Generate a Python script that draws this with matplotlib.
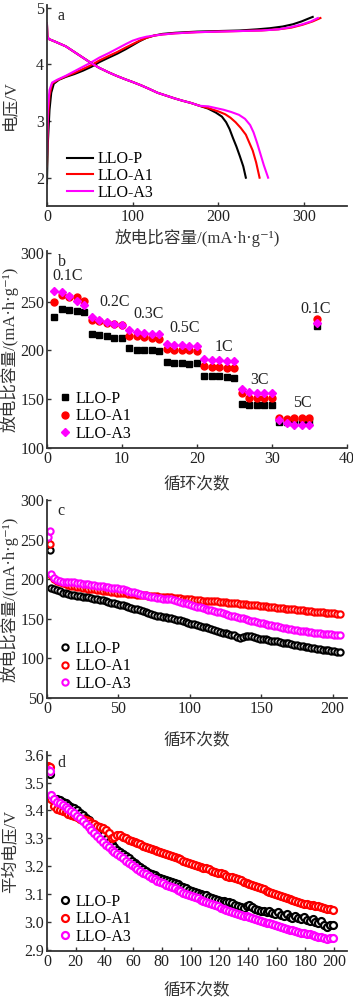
import matplotlib
matplotlib.use("Agg")
import matplotlib.pyplot as plt
import numpy as np

plt.rcParams['font.family'] = ['Liberation Serif', 'Noto Sans CJK SC', 'DejaVu Serif']
plt.rcParams['axes.unicode_minus'] = False

names = ['LLO-P', 'LLO-A1', 'LLO-A3']
colors = ['#000000', '#ff0000', '#ff00ff']

# (a) charge / discharge curves: capacity (mAh/g), voltage (V)
chg_cap_p = [0, 1, 3, 5, 8, 14, 22, 32, 42, 52, 61, 72, 82, 92, 100, 108, 116, 125, 135, 150, 175, 200, 225, 245, 260, 275, 287, 297, 305, 310]
chg_v_p = [1.9, 2.6, 3.2, 3.5, 3.66, 3.73, 3.78, 3.83, 3.89, 3.96, 4.04, 4.12, 4.19, 4.27, 4.34, 4.41, 4.47, 4.51, 4.54, 4.56, 4.58, 4.59, 4.60, 4.62, 4.64, 4.67, 4.71, 4.76, 4.81, 4.84]
chg_cap_a1 = [0, 1, 3, 6, 12, 22, 32, 42, 52, 61, 72, 82, 92, 100, 108, 116, 125, 135, 150, 175, 200, 225, 250, 270, 285, 298, 310, 319]
chg_v_a1 = [2.2, 3.0, 3.45, 3.66, 3.72, 3.79, 3.85, 3.92, 3.99, 4.07, 4.15, 4.22, 4.30, 4.36, 4.42, 4.47, 4.51, 4.53, 4.55, 4.57, 4.58, 4.59, 4.60, 4.62, 4.65, 4.70, 4.76, 4.82]
chg_cap_a3 = [0, 1, 3, 6, 12, 22, 32, 42, 52, 61, 72, 82, 92, 100, 108, 116, 125, 135, 150, 175, 200, 225, 250, 270, 285, 298, 308, 316]
chg_v_a3 = [2.4, 3.2, 3.55, 3.68, 3.73, 3.80, 3.88, 3.96, 4.04, 4.12, 4.20, 4.28, 4.36, 4.42, 4.46, 4.49, 4.51, 4.53, 4.55, 4.57, 4.58, 4.59, 4.60, 4.62, 4.66, 4.71, 4.76, 4.82]

dis_cap_common = [0, 0.5, 2, 10, 22, 32, 42, 52, 61, 72, 81, 91, 100, 110, 119, 129, 139, 149, 158, 168, 178]
dis_v_common = [4.72, 4.5, 4.45, 4.40, 4.32, 4.22, 4.12, 4.02, 3.94, 3.86, 3.80, 3.74, 3.69, 3.63, 3.57, 3.50, 3.45, 3.40, 3.36, 3.32, 3.27]
dis_cap_p = [188, 197, 204, 209, 213, 217, 221, 225, 229, 232]
dis_v_p = [3.22, 3.15, 3.08, 2.98, 2.86, 2.70, 2.55, 2.38, 2.20, 2.00]
dis_cap_a1 = [188, 200, 208, 214, 220, 226, 232, 236, 240, 244, 248]
dis_v_a1 = [3.23, 3.17, 3.12, 3.06, 2.98, 2.88, 2.76, 2.62, 2.48, 2.27, 2.00]
dis_cap_a3 = [188, 197, 206, 215, 224, 231, 237, 241, 245, 249, 253, 258]
dis_v_a3 = [3.26, 3.23, 3.20, 3.16, 3.11, 3.04, 2.93, 2.80, 2.62, 2.42, 2.22, 2.00]

# (b) rate capability
rate_cycles = list(range(1, 37))
rate_p = [234, 243, 241, 240, 239, 217, 215.5, 214.5, 213, 212.5, 203, 200.5, 200, 200, 199.5,
          188, 187, 187, 186.5, 187, 173.5, 173.5, 173.5, 173, 171.5, 145.5, 144.5, 144.5, 144.5, 144.5,
          126.5, 126.5, 126.5, 126.5, 126.5, 225]
rate_a1 = [250, 257, 255, 254.5, 251, 231.5, 230.5, 228, 227, 226, 215, 214.5, 214, 213, 212,
           201.5, 201, 201, 200.5, 199, 184, 183, 183, 182.5, 182.5, 156.5, 151.5, 151.5, 151.5, 151.5,
           130.5, 130, 130.5, 130.5, 130.5, 232]
rate_a3 = [260.5, 260, 255.5, 250.5, 246.5, 234, 231.5, 229.5, 227.5, 226, 220.5, 219, 218, 216.5, 216.5,
           206.5, 205.5, 205.5, 205, 204.5, 191, 190, 190, 189.5, 189, 160, 157, 156.5, 156.5, 156.5,
           129, 125.5, 123.5, 123.5, 123.5, 228]
rate_labels = ['0.1C', '0.2C', '0.3C', '0.5C', '1C', '3C', '5C', '0.1C']
rate_label_x = [2.8, 9.0, 13.5, 18.3, 23.6, 28.4, 34.0, 35.8]
rate_label_y = [276, 250, 237, 223, 204, 170, 146, 243]

# (c) cycling capacity
cyc_first = [1, 2]
cap_first_p = [238, 237]
cap_first_a1 = [246, 244]
cap_first_a3 = [253, 261]
cyc_c = list(range(3, 206, 2))
cap_p = [189, 187, 186, 184.5, 183, 182, 181, 180, 179.5, 179, 178.5, 178, 177.5, 177, 176, 175.5, 175, 174, 173.5, 172.5,
         171.5, 170.5, 169.5, 168.5, 167.5, 167, 166, 165, 164, 163, 162, 160.5, 159.5, 158, 157, 156, 155, 154, 153, 152.5,
         152, 151, 150.5, 149.5, 149, 148, 147, 146, 145, 144, 143, 142, 141, 140, 139.5, 138.5, 137, 136, 134.5, 133.5,
         132.5, 132, 131, 130, 129, 127.5, 126, 126.5, 128, 128.5, 128, 127, 125.5, 124.5, 124, 124.5, 123.5, 122.5, 122, 121.5,
         121, 120, 119.5, 119, 118, 117.5, 116.5, 116, 115.5, 115, 114, 113.5, 113, 112, 111.5, 111, 110.5, 110, 109.5, 109,
         108.5, 108]
cap_a1 = [205, 200, 198, 196, 195, 194, 193, 192, 191, 190.5, 190, 189, 188.5, 188, 187.5, 187, 186.5, 186, 185.5, 185,
          184.5, 184, 183.5, 183, 182.5, 182, 182, 181.5, 181, 181, 180.5, 180, 180, 179.5, 179, 179, 178.5, 178.5, 178, 177.5,
          177.5, 177, 177, 176.5, 176, 176, 175.5, 175, 174.5, 174.5, 174, 174, 173.5, 173, 173, 172.5, 172.5, 172, 172, 171.5,
          171.5, 171, 170.5, 170.5, 170, 169.5, 169, 169, 168.5, 168, 168, 167.5, 167, 166.5, 166.5, 166, 165.5, 165, 164.5, 164,
          164, 163.5, 163, 162.5, 162, 162, 161.5, 161, 160.5, 160, 160, 159.5, 159, 158.5, 158.5, 158, 157.5, 157.5, 157, 157,
          156.5, 156.5]
cap_a3 = [206, 202, 199, 197.5, 197, 196.5, 196.5, 196.5, 196, 195.5, 195, 194.5, 194, 193.5, 193, 192.5, 192, 191.5, 191, 190.5,
          190, 189.5, 189, 188.5, 188, 187, 186, 185, 184, 183.5, 182.5, 181.5, 180.5, 179.5, 179, 178, 177.5, 176.5, 176, 175.5,
          175.5, 175, 175, 174, 173, 171.5, 170.5, 169.5, 168.5, 167.5, 166.5, 165.5, 164.5, 163.5, 162.5, 161.5, 160.5, 159.5, 158.5, 158,
          157, 156, 155, 154, 153.5, 152.5, 151.5, 150.5, 149.5, 148.5, 147.5, 147, 146, 145, 144.5, 143.5, 142.5, 142, 141, 140.5,
          139.5, 138.5, 138, 137, 136.5, 136, 135.5, 135, 134.5, 134, 133.5, 133, 132.5, 132, 131.5, 131, 131, 130.5, 130.5, 130,
          130, 130]

# (d) average discharge voltage
volt_first_p = [3.535, 3.53]
volt_first_a1 = [3.56, 3.555]
volt_first_a3 = [3.545, 3.54]
cyc_d = list(range(3, 200, 2))
volt_p = [3.445, 3.442, 3.440, 3.437, 3.432, 3.426, 3.420, 3.414, 3.407, 3.400, 3.392, 3.383, 3.374, 3.365, 3.356, 3.346, 3.335, 3.323, 3.310, 3.298,
          3.288, 3.278, 3.268, 3.258, 3.250, 3.243, 3.236, 3.228, 3.219, 3.211, 3.204, 3.197, 3.190, 3.183, 3.177, 3.172, 3.167, 3.162, 3.157, 3.153,
          3.149, 3.146, 3.143, 3.139, 3.135, 3.130, 3.125, 3.120, 3.115, 3.110, 3.106, 3.102, 3.100, 3.098, 3.095, 3.090, 3.086, 3.083, 3.080, 3.076,
          3.073, 3.072, 3.070, 3.066, 3.062, 3.058, 3.054, 3.050, 3.055, 3.060, 3.052, 3.045, 3.042, 3.038, 3.040, 3.036, 3.040, 3.032, 3.028, 3.035,
          3.025, 3.022, 3.028, 3.018, 3.015, 3.020, 3.012, 3.010, 3.016, 3.006, 3.004, 3.010, 3.000, 2.996, 3.002, 2.990, 2.982, 2.988, 2.990]
volt_a1 = [3.440, 3.415, 3.405, 3.400, 3.398, 3.393, 3.388, 3.384, 3.380, 3.376, 3.371, 3.368, 3.366, 3.362, 3.355, 3.350, 3.345, 3.340, 3.336, 3.330,
           3.320, 3.302, 3.305, 3.312, 3.310, 3.305, 3.300, 3.295, 3.290, 3.286, 3.282, 3.278, 3.274, 3.270, 3.266, 3.263, 3.259, 3.255, 3.251, 3.247,
           3.243, 3.239, 3.235, 3.231, 3.228, 3.224, 3.219, 3.214, 3.210, 3.207, 3.204, 3.201, 3.198, 3.195, 3.192, 3.188, 3.184, 3.180, 3.177, 3.174,
           3.170, 3.166, 3.162, 3.160, 3.157, 3.153, 3.149, 3.144, 3.139, 3.136, 3.133, 3.128, 3.124, 3.120, 3.116, 3.112, 3.108, 3.104, 3.099, 3.095,
           3.092, 3.089, 3.085, 3.081, 3.078, 3.074, 3.071, 3.068, 3.065, 3.063, 3.061, 3.059, 3.057, 3.055, 3.052, 3.050, 3.047, 3.045, 3.042]
volt_a3 = [3.456, 3.440, 3.432, 3.427, 3.420, 3.413, 3.406, 3.398, 3.390, 3.381, 3.372, 3.362, 3.352, 3.342, 3.331, 3.320, 3.309, 3.298, 3.287, 3.277,
           3.268, 3.259, 3.250, 3.242, 3.235, 3.228, 3.220, 3.212, 3.205, 3.198, 3.191, 3.184, 3.177, 3.170, 3.164, 3.158, 3.152, 3.147, 3.142, 3.138,
           3.133, 3.128, 3.124, 3.120, 3.115, 3.110, 3.105, 3.100, 3.096, 3.092, 3.088, 3.084, 3.080, 3.076, 3.072, 3.068, 3.063, 3.059, 3.055, 3.050,
           3.046, 3.042, 3.038, 3.034, 3.031, 3.028, 3.025, 3.022, 3.020, 3.017, 3.014, 3.010, 3.006, 3.003, 3.000, 2.997, 2.994, 2.991, 2.988, 2.985,
           2.982, 2.978, 2.975, 2.972, 2.969, 2.966, 2.963, 2.961, 2.959, 2.957, 2.955, 2.952, 2.949, 2.946, 2.944, 2.941, 2.939, 2.940, 2.942]

fs = 11.5
lab_fs = 12
spine_c = '#333333'
cap_label = '放电比容量/(mA·h·g⁻¹)'


def style(ax, letter):
    for s in ['top', 'right']:
        ax.spines[s].set_visible(False)
    for s in ['left', 'bottom']:
        ax.spines[s].set_color(spine_c)
        ax.spines[s].set_linewidth(1.3)
    ax.tick_params(direction='in', length=3, width=1, colors=spine_c, labelsize=fs, labelcolor='#222222', pad=2)
    ax.text(0.035, 0.985, letter, transform=ax.transAxes, fontsize=fs, va='top', ha='left', color='#222222')
    ax.yaxis.set_label_coords(-0.095, 0.5)


def legend(ax, hl):
    ax.legend(loc='lower left', bbox_to_anchor=(0.0, -0.025), frameon=False, fontsize=fs,
              handlelength=hl, handletextpad=0.3, labelspacing=0.1, borderpad=0.2)


fig = plt.figure(figsize=(3.53, 10), dpi=100)

# panel a
ax = fig.add_axes([0.133, 0.794, 0.85, 0.201])
ax.plot(chg_cap_p, chg_v_p, color=colors[0], lw=1.5)
ax.plot(chg_cap_a1, chg_v_a1, color=colors[1], lw=1.5)
ax.plot(chg_cap_a3, chg_v_a3, color=colors[2], lw=1.5)
ax.plot(dis_cap_common + dis_cap_p, dis_v_common + dis_v_p, color=colors[0], lw=1.5, label=names[0])
ax.plot(dis_cap_common + dis_cap_a1, dis_v_common + dis_v_a1, color=colors[1], lw=1.5, label=names[1])
ax.plot(dis_cap_common + dis_cap_a3, dis_v_common + dis_v_a3, color=colors[2], lw=1.5, label=names[2])
ax.set_xlim(0, 350)
ax.set_ylim(1.5, 5.05)
ax.set_xticks([0, 100, 200, 300])
ax.set_yticks([2, 3, 4, 5])
ax.set_xlabel(cap_label, fontsize=lab_fs, color='#333333', labelpad=3)
ax.set_ylabel('电压/V', fontsize=lab_fs, color='#333333')
style(ax, 'a')
ax.legend(loc='lower left', bbox_to_anchor=(0.03, -0.03), frameon=False, fontsize=fs,
          handlelength=1.6, handletextpad=0.3, labelspacing=0.05, borderpad=0.2)

# panel b
ax = fig.add_axes([0.133, 0.552, 0.85, 0.197])
ax.plot(rate_cycles, rate_p, ls='none', marker='s', ms=4.5, color=colors[0], label=names[0])
ax.plot(rate_cycles, rate_a1, ls='none', marker='o', ms=5, color=colors[1], label=names[1])
ax.plot(rate_cycles, rate_a3, ls='none', marker='D', ms=4.5, color=colors[2], label=names[2])
for t, x, y in zip(rate_labels, rate_label_x, rate_label_y):
    ax.text(x, y, t, fontsize=fs, ha='center', va='center', color='#222222')
ax.set_xlim(0, 40)
ax.set_ylim(100, 302)
ax.set_xticks([0, 10, 20, 30, 40])
ax.set_yticks([100, 150, 200, 250, 300])
ax.set_xlabel('循环次数', fontsize=lab_fs, color='#333333', labelpad=7)
ax.set_ylabel(cap_label, fontsize=lab_fs, color='#333333')
style(ax, 'b')
legend(ax, 0.8)

# panel c
ax = fig.add_axes([0.133, 0.302, 0.85, 0.198])
for cf, cm, c, n in [(cap_first_p, cap_p, colors[0], names[0]),
                     (cap_first_a1, cap_a1, colors[1], names[1]),
                     (cap_first_a3, cap_a3, colors[2], names[2])]:
    ax.plot(cyc_first + cyc_c, cf + cm, ls='none', marker='o', ms=4.5, mfc='white', mec=c, mew=1.5, label=n)
ax.set_xlim(0, 210)
ax.set_ylim(50, 300)
ax.set_xticks([0, 50, 100, 150, 200])
ax.set_yticks([50, 100, 150, 200, 250, 300])
ax.set_xlabel('循环次数', fontsize=lab_fs, color='#333333', labelpad=11)
ax.set_ylabel(cap_label, fontsize=lab_fs, color='#333333')
style(ax, 'c')
legend(ax, 0.8)

# panel d
ax = fig.add_axes([0.133, 0.049, 0.85, 0.199])
for vf, vm, c, n in [(volt_first_p, volt_p, colors[0], names[0]),
                     (volt_first_a1, volt_a1, colors[1], names[1]),
                     (volt_first_a3, volt_a3, colors[2], names[2])]:
    ax.plot(cyc_first + cyc_d, vf + vm, ls='none', marker='o', ms=5, mfc='white', mec=c, mew=1.6, label=n)
ax.set_xlim(0, 209)
ax.set_ylim(2.895, 3.61)
ax.set_xticks(range(0, 201, 20))
ax.set_yticks([2.9, 3.0, 3.1, 3.2, 3.3, 3.4, 3.5, 3.6])
ax.set_yticklabels(['2.9', '3.0', '3.1', '3.2', '3.3', '3.4', '3.5', '3.6'])
ax.set_xlabel('循环次数', fontsize=lab_fs, color='#333333', labelpad=9)
ax.set_ylabel('平均电压/V', fontsize=lab_fs, color='#333333')
style(ax, 'd')
legend(ax, 0.8)

fig.savefig('out.png', dpi=100)
